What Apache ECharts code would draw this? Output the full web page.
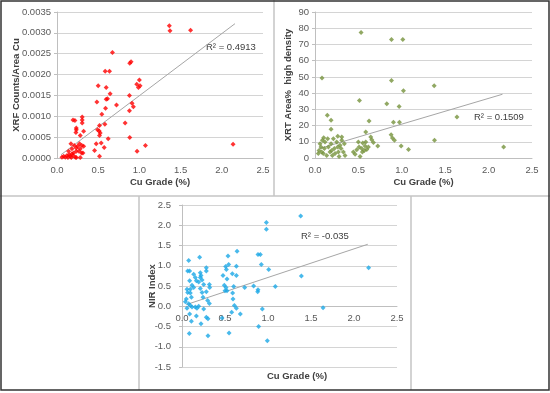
<!DOCTYPE html>
<html><head><meta charset="utf-8">
<script src="https://cdn.jsdelivr.net/npm/echarts@6/dist/echarts.min.js"></script>
<style>html,body{margin:0;padding:0;background:#fff}#c{width:550px;height:393px}</style>
</head><body><div id="c"></div>
<script>
// ---- Data ----
const xrfPoints = [[1.363,0.00317],[1.371,0.00305],[1.621,0.00306],[0.673,0.00253],[0.883,0.00227],[0.899,0.00231],
[0.585,0.00208],[0.637,0.00208],[1.0,0.00187],[0.968,0.00177],[1.008,0.00173],[0.988,0.00169],[0.5,0.00173],[0.597,0.00169],
[0.645,0.00154],[0.613,0.00142],[0.597,0.00141],[0.484,0.00134],[0.879,0.0015],[0.722,0.00127],[0.911,0.00131],[0.927,0.00123],
[0.589,0.00119],[0.879,0.00113],[0.544,0.00105],[0.194,0.00091],[0.218,0.0009],[0.306,0.00098],[0.306,0.00091],[0.306,0.00084],
[0.234,0.00072],[0.234,0.00068],[0.581,0.00081],[0.827,0.00084],[0.23,0.00061],[0.323,0.00064],[0.282,0.00054],[0.516,0.00078],
[0.492,0.00068],[0.512,0.00065],[0.524,0.0006],[0.516,0.00054],[0.621,0.00046],[0.883,0.00049],[0.476,0.00034],[0.536,0.00036],
[0.573,0.00025],[0.456,0.00018],[1.073,0.0003],[0.972,0.00016],[0.516,0.00004],[2.137,0.00033],
[0.06,0.00002],[0.081,0.00004],[0.1,0.00002],[0.121,0.00006],[0.133,0.00001],[0.149,0.00008],[0.161,0.00004],[0.173,0.00001],
[0.181,0.0001],[0.194,0.00006],[0.202,0.00012],[0.222,0.00002],[0.234,0.00016],[0.169,0.00034],[0.21,0.0003],[0.25,0.00028],
[0.274,0.00034],[0.302,0.0003],[0.323,0.00028],[0.282,0.00022],[0.266,0.00016],[0.298,0.00012],[0.234,0.00001],[0.282,0.00001],
[0.315,0.00012],[0.234,0.00024],[0.181,0.00022],[0.141,0.00016]];
const xrfTrend = [[0.05,0.00008],[2.16,0.00322]];

const xrtPoints = [[0.531,77.3],[0.881,73.1],[1.012,73.1],[0.081,49.3],[0.881,47.7],[1.019,41.5],[1.373,44.6],[0.512,35.5],
[0.827,33.5],[0.969,31.8],[0.142,26.3],[0.185,23.2],[0.623,22.8],[0.904,22],[0.973,22],[1.635,25.3],[0.185,17.7],[0.585,16],
[0.877,14.4],[0.892,12.3],[0.915,10.9],[1.377,10.9],[0.642,12.9],[0.654,11.3],[0.585,9.9],[0.55,9.2],[0.577,7.4],[0.5,9.9],
[0.508,6.8],[0.673,9.5],[0.723,7.4],[0.992,7.4],[1.077,5.3],[2.173,6.8],[0.442,3.7],[0.462,2.3],[0.481,5.1],[0.519,1.0],
[0.546,3.7],[0.569,4.7],[0.538,5.8],[0.615,6.8],[0.596,5.3],
[0.058,8.8],[0.069,6.8],[0.077,3.7],[0.096,2.7],[0.108,5.8],[0.115,9.9],[0.135,1.6],[0.146,11.9],[0.154,6.8],[0.173,3.7],
[0.185,8.8],[0.192,4.7],[0.2,1.6],[0.212,11.9],[0.223,5.8],[0.231,2.7],[0.25,9.9],[0.262,6.8],[0.269,3.7],[0.277,1.0],
[0.288,7.8],[0.3,5.8],[0.308,10.9],[0.327,3.7],[0.338,8.8],[0.346,1.6],[0.038,2.7],[0.046,4.7],[0.085,10.9],[0.308,12.9],
[0.1,12.5],[0.262,13.4]];
const xrtTrend = [[0.05,5.8],[2.16,39.3]];

const nirPoints = [[1.38,2.23],[0.981,2.07],[0.981,1.9],[0.884,1.28],[0.911,1.28],[0.922,1.03],[1.008,0.91],[0.64,1.36],
[0.535,1.24],[0.543,1.03],[0.508,0.98],[0.516,0.91],[0.632,0.99],[0.632,0.76],[0.477,0.76],[0.585,0.8],[0.523,0.67],
[0.492,0.52],[0.512,0.46],[0.5,0.38],[0.601,0.49],[0.729,0.46],[0.833,0.5],[0.884,0.41],[0.88,0.36],[1.085,0.49],[0.523,0.38],
[0.589,0.33],[0.593,0.18],[0.609,0.02],[0.632,-0.05],[0.578,-0.15],[0.678,-0.19],[0.934,-0.07],[1.64,-0.04],[0.891,-0.5],
[0.992,-0.85],[0.547,-0.66],[0.465,-0.29],[2.17,0.95],[1.388,0.75],
[0.078,1.13],[0.066,0.87],[0.089,0.87],[0.089,0.63],[0.205,1.21],[0.283,0.95],[0.283,0.87],[0.213,0.83],[0.221,0.76],[0.213,0.71],
[0.136,0.79],[0.155,0.71],[0.167,0.63],[0.194,0.6],[0.233,0.65],[0.252,0.54],[0.318,0.54],[0.322,0.46],[0.116,0.52],[0.136,0.46],
[0.097,0.42],[0.058,0.42],[0.066,0.34],[0.097,0.33],[0.109,0.22],[0.05,0.18],[0.078,0.06],[0.058,-0.05],[0.213,0.44],[0.233,0.34],
[0.244,0.22],[0.283,0.36],[0.298,0.14],[0.318,0.07],[0.155,-0.02],[0.174,-0.05],[0.194,0],[0.097,0.02],[0.116,-0.02],[0.252,-0.07],
[0.089,-0.19],[0.109,-0.37],[0.085,-0.67],[0.167,-0.24],[0.221,-0.43],[0.283,-0.27],[0.302,-0.31],[0.302,-0.73],[0.039,0.11]];
const nirTrend = [[0.05,0.04],[2.16,1.53]];

const xTitle = 'Cu Grade (%)';
const yTitles = ['XRF Counts/Area Cu', 'XRT Area%  high density', 'NIR Index'];
const r2Labels = ['R\u00b2 = 0.4913', 'R\u00b2 = 0.1509', 'R\u00b2 = -0.035'];

// ---- Chart ----
const FONT = 'Liberation Sans, Arial, sans-serif';
const chart = echarts.init(document.getElementById('c'), null, {renderer: 'canvas'});
const grids = [
  {left: 57, top: 12, width: 206, height: 146, outerBoundsMode: 'none', containLabel: false},
  {left: 315, top: 12, width: 217, height: 146, outerBoundsMode: 'none', containLabel: false},
  {left: 182, top: 205, width: 215, height: 162, outerBoundsMode: 'none', containLabel: false}
];
const yRanges = [
  {min: 0, max: 0.0035, interval: 0.0005, dec: 4, gap: 36},
  {min: 0, max: 90, interval: 10, dec: 0, gap: 22},
  {min: -1.5, max: 2.5, interval: 0.5, dec: 1, gap: 25}
];
// bottom panel: x axis sits on the y = 0 line (offset upwards from the grid bottom)
const zeroOffset = -(grids[2].height * (0 - yRanges[2].min) / (yRanges[2].max - yRanges[2].min));
const labelColor = '#595959';
const titleStyle = {fontFamily: FONT, fontSize: 9.5, fontWeight: 'bold', color: '#404040'};
const xAxes = grids.map((g, i) => ({
  type: 'value', gridIndex: i, min: 0, max: 2.5, interval: 0.5, position: 'bottom',
  offset: i === 2 ? zeroOffset : 0,
  name: i < 2 ? xTitle : '', nameLocation: 'middle', nameGap: 19, nameMoveOverlap: false,
  nameTextStyle: titleStyle,
  axisLine: {show: true, onZero: false, lineStyle: {color: '#bfbfbf', width: 1}},
  axisTick: {show: false},
  axisLabel: {fontFamily: FONT, fontSize: 9.5, color: labelColor, margin: 7, formatter: v => v.toFixed(1)},
  splitLine: {show: false}
}));
const yAxes = grids.map((g, i) => ({
  type: 'value', gridIndex: i, min: yRanges[i].min, max: yRanges[i].max, interval: yRanges[i].interval,
  name: yTitles[i], nameLocation: 'middle', nameGap: yRanges[i].gap, nameMoveOverlap: false,
  nameTextStyle: titleStyle,
  axisLine: {show: true, onZero: false, lineStyle: {color: '#bfbfbf', width: 1}},
  axisTick: {show: true, length: 3, lineStyle: {color: '#bfbfbf'}},
  axisLabel: {fontFamily: FONT, fontSize: 9.5, color: labelColor, margin: i === 2 ? 11 : 6,
    formatter: v => v.toFixed(yRanges[i].dec)},
  splitLine: {show: true, lineStyle: {color: '#d4d4d4', width: 1}}
}));
const colors = ['#ff0000', '#76923c', '#1aa7e6'];
const pts = [xrfPoints, xrtPoints, nirPoints];
const trends = [xrfTrend, xrtTrend, nirTrend];
const series = [];
pts.forEach((p, i) => {
  series.push({type: 'line', xAxisIndex: i, yAxisIndex: i, data: trends[i], symbol: 'none',
    lineStyle: {color: '#a6a6a6', width: 1}, silent: true, z: 2, animation: false});
  series.push({type: 'scatter', xAxisIndex: i, yAxisIndex: i, data: p, symbol: 'diamond', symbolSize: 5,
    itemStyle: {color: colors[i]}, z: 3, animation: false});
});
const lineCol = '#c4c4c4';
const graphic = [
  {type: 'line', shape: {x1: 274, y1: 0, x2: 274, y2: 196}, style: {stroke: lineCol, lineWidth: 1.5}},
  {type: 'line', shape: {x1: 0, y1: 196, x2: 550, y2: 196}, style: {stroke: lineCol, lineWidth: 1.5}},
  {type: 'line', shape: {x1: 139, y1: 196, x2: 139, y2: 390}, style: {stroke: lineCol, lineWidth: 1.5}},
  {type: 'line', shape: {x1: 411, y1: 196, x2: 411, y2: 390}, style: {stroke: lineCol, lineWidth: 1.5}},
  {type: 'rect', shape: {x: 1, y: 1, width: 548, height: 389}, style: {fill: 'none', stroke: '#333', lineWidth: 1.5}},
  {type: 'text', left: 206, top: 42, style: {text: r2Labels[0], font: '9.5px ' + FONT, fill: '#404040'}},
  {type: 'text', left: 474, top: 112, style: {text: r2Labels[1], font: '9.5px ' + FONT, fill: '#404040'}},
  {type: 'text', left: 301, top: 231, style: {text: r2Labels[2], font: '9.5px ' + FONT, fill: '#404040'}},
  {type: 'text', x: 297, y: 376, style: {text: xTitle, font: 'bold 9.5px ' + FONT, fill: '#404040',
    textAlign: 'center', textVerticalAlign: 'middle'}}
];
chart.setOption({
  backgroundColor: '#ffffff', animation: false,
  grid: grids, xAxis: xAxes, yAxis: yAxes, series: series, graphic: graphic
});
</script></body></html>
